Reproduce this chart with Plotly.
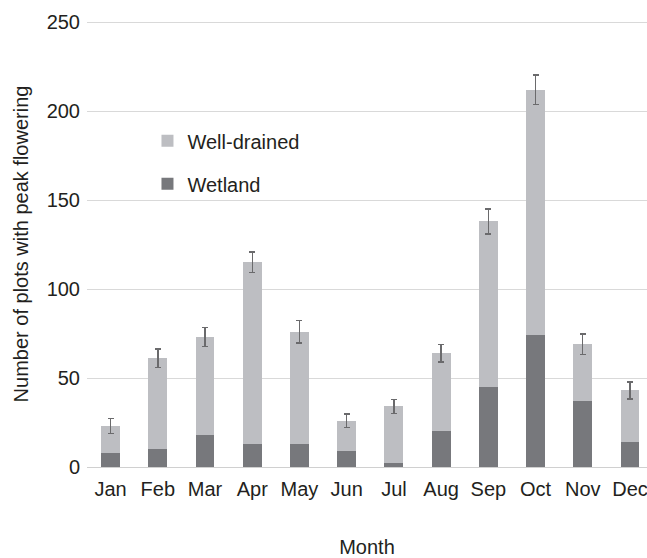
import plotly.graph_objects as go

months = ["Jan", "Feb", "Mar", "Apr", "May", "Jun", "Jul", "Aug", "Sep", "Oct", "Nov", "Dec"]
wetland = [8, 10, 18, 13, 13, 9, 2, 20, 45, 74, 37, 14]
well_drained = [15, 51, 55, 102, 63, 17, 32, 44, 93, 138, 32, 29]
total_error = [4.3, 5.2, 5.4, 5.7, 6.3, 3.7, 4.0, 5.0, 7.0, 8.3, 5.8, 4.7]
y_ticks = [0, 50, 100, 150, 200, 250]

FONT = "Liberation Sans, Arial, Helvetica, sans-serif"
TXT = "#231f20"

fig = go.Figure()
fig.add_trace(go.Bar(
    x=months, y=wetland, name="Wetland", legendgroup="w", legendrank=2,
    marker=dict(color="#77787c", line=dict(width=0)),
))
fig.add_trace(go.Bar(
    x=months, y=well_drained, name="Well-drained", legendgroup="d", legendrank=1,
    marker=dict(color="#bdbec2", line=dict(width=0)),
    error_y=dict(type="data", array=total_error, visible=True,
                 color="#6a6a6c", thickness=1.4, width=3),
))

fig.update_layout(
    width=647, height=558,
    barmode="stack", bargap=0.6,
    paper_bgcolor="white", plot_bgcolor="white",
    margin=dict(l=87, r=0, t=21, b=91),
    font=dict(family=FONT, size=20, color=TXT),
    legend=dict(x=0.108, y=0.775, xanchor="left", yanchor="top",
                traceorder="grouped",
                bgcolor="rgba(0,0,0,0)", font=dict(size=20, color=TXT),
                tracegroupgap=14, itemwidth=30),
    xaxis=dict(
        range=[-0.5, 11.36], showgrid=False, showline=False, ticks="",
        automargin=False, ticklabelstandoff=8,
        tickfont=dict(size=20, color=TXT),
        title=dict(text="Month", font=dict(size=20, color=TXT), standoff=42),
    ),
    yaxis=dict(
        range=[0, 250.6], tickvals=y_ticks, showgrid=True, gridcolor="#d9d9d9",
        gridwidth=1, zeroline=True, zerolinecolor="#d0d0d0", zerolinewidth=1,
        showline=False, ticks="", ticklabelstandoff=6, automargin=False,
        tickfont=dict(size=20, color=TXT),
        title=dict(text="Number of plots with peak flowering",
                   font=dict(size=20, color=TXT), standoff=12),
    ),
)

fig.write_html(
    "out.html",
    config={"displayModeBar": False},
    post_script=(
        "document.body.style.margin='0';"
        "document.body.style.overflow='hidden';"
        "document.documentElement.style.overflow='hidden';"
    ),
)
